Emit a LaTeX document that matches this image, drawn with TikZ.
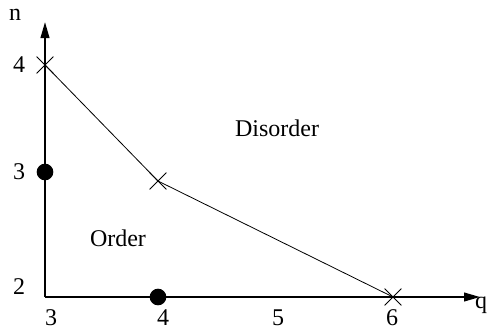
\documentclass[tikz,border=0pt]{standalone}
\usepackage{fontspec}
\setmainfont{Liberation Serif}
\usetikzlibrary{arrows.meta,shapes.misc}

\begin{document}
\begin{tikzpicture}[
  x=0.75pt, y=-0.75pt,
  >={Triangle[length=12pt,width=6.5pt]},
  every node/.style={font=\fontsize{18}{20}\selectfont},
  axis/.style={line width=1.5pt, ->},
  crossmark/.style={cross out, draw, line width=0.6pt, minimum size=12pt, inner sep=0pt},
  dotmark/.style={circle, fill=black, minimum size=12.5pt, inner sep=0pt},
  tick/.style={inner sep=0pt},
]
  \useasboundingbox (0,0) rectangle (488,332);

  % axes
  \coordinate (o) at (45,297);
  \coordinate (qend) at (480,297);
  \coordinate (nend) at (45,22);
  \draw[axis] (o) -- (qend);
  \draw[axis] (o) -- (nend);
  \node[tick] (qlab) at (481,305) {q};
  \node[tick] (nlab) at (15,15) {n};

  % tick labels
  \node[tick] (n4) at (19,65) {4};
  \node[tick] (n3) at (19,172) {3};
  \node[tick] (n2) at (19,287) {2};
  \node[tick] (q3) at (51,318) {3};
  \node[tick] (q4) at (163,318) {4};
  \node[tick] (q5) at (278,318) {5};
  \node[tick] (q6) at (392,318) {6};

  % transition points
  \node[crossmark] (x4) at (45,65) {};
  \node[crossmark] (x3) at (158,181) {};
  \node[crossmark] (x6) at (393,297) {};
  \draw[line width=0.6pt] (x4.center) -- (x3.center) -- (x6.center);

  \node[dotmark] (d3) at (45,172) {};
  \node[dotmark] (d4) at (158,297) {};

  % phases
  \node (disorder) at (277,128) {Disorder};
  \node (order) at (118,238) {Order};
\end{tikzpicture}
\end{document}
